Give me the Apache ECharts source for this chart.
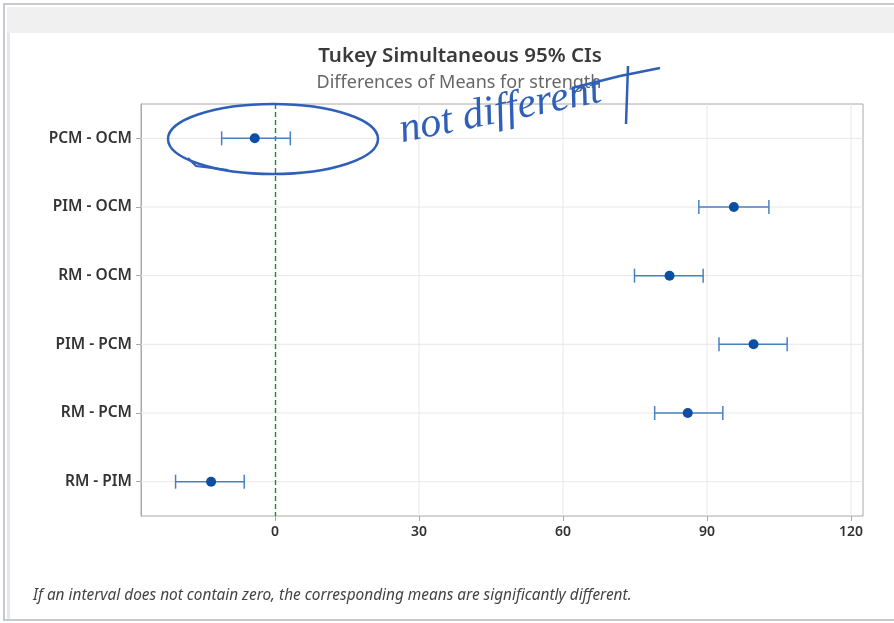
<!DOCTYPE html>
<html>
<head>
<meta charset="utf-8">
<script src="https://cdn.jsdelivr.net/npm/echarts@6/dist/echarts.min.js"></script>
<style>html,body{margin:0;padding:0;background:#fff;}#c{width:894px;height:623px;}</style>
</head>
<body>
<div id="c"></div>
<script>
// ---- data ----
const categories = ['PCM - OCM', 'PIM - OCM', 'RM - OCM', 'PIM - PCM', 'RM - PCM', 'RM - PIM'];
const means = [-4.2, 95.6, 82.2, 99.7, 86.0, -13.3];
const lowers = [-11.1, 88.3, 74.9, 92.5, 79.1, -20.7];
const uppers = [3.2, 102.9, 89.2, 106.7, 93.3, -6.4];
const xTicks = [0, 30, 60, 90, 120];
const refValue = [0];

const chart = echarts.init(document.getElementById('c'), null, {renderer: 'canvas'});
const font = '"Noto Sans", "Open Sans", sans-serif';

const ciData = categories.map((c, i) => [i, lowers[i], uppers[i]]);
const meanData = categories.map((c, i) => [means[i], i]);
const gridStyle = {stroke: '#e8e8e8', lineWidth: 1};

chart.setOption({
  animation: false,
  backgroundColor: '#ffffff',
  title: [
    {text: 'Tukey Simultaneous 95% CIs', left: 455, top: 41, textAlign: 'center',
     textStyle: {fontFamily: font, fontSize: 20.5, fontWeight: 600, color: '#3a3a3a'}},
    {text: 'Differences of Means for strength', left: 454, top: 69, textAlign: 'center',
     textStyle: {fontFamily: font, fontSize: 18, fontWeight: 'normal', color: '#666666'}},
    {text: 'If an interval does not contain zero, the corresponding means are significantly different.',
     left: 28, top: 583,
     textStyle: {fontFamily: font, fontSize: 15.4, fontStyle: 'italic', fontWeight: 'normal', color: '#444444'}}
  ],
  grid: {left: 141, right: 31, top: 104, bottom: 107, show: true, borderColor: '#a8a8a8', borderWidth: 1, containLabel: false},
  xAxis: {
    type: 'value', min: -27.9, max: 122.5,
    axisLine: {show: false},
    axisTick: {show: true, length: 5, lineStyle: {color: '#a8a8a8'}, customValues: xTicks},
    axisLabel: {customValues: xTicks, fontFamily: font, fontSize: 14, fontWeight: 600, color: '#333', margin: 9},
    splitLine: {show: false}
  },
  yAxis: {
    type: 'category', data: categories, inverse: true,
    axisLine: {show: true, onZero: false, lineStyle: {color: '#a8a8a8'}},
    axisTick: {show: true, alignWithLabel: true, length: 5, lineStyle: {color: '#a8a8a8'}},
    axisLabel: {fontFamily: font, fontSize: 15.5, fontWeight: 600, color: '#333', margin: 9},
    splitLine: {show: false}
  },
  series: [
    {
      type: 'custom', silent: true, z: 1,
      data: categories.map((c, i) => [i]),
      encode: {y: 0},
      renderItem: function (params, api) {
        const cs = params.coordSys;
        const y = api.coord([0, api.value(0)])[1];
        return {type: 'line', shape: {x1: cs.x, y1: y, x2: cs.x + cs.width, y2: y}, style: gridStyle};
      }
    },
    {
      type: 'custom', silent: true, z: 1,
      data: xTicks.filter(v => v !== 0).map(v => [v]),
      encode: {x: 0},
      renderItem: function (params, api) {
        const cs = params.coordSys;
        const x = api.coord([api.value(0), 0])[0];
        return {type: 'line', shape: {x1: x, y1: cs.y, x2: x, y2: cs.y + cs.height}, style: gridStyle};
      }
    },
    {
      // green dashed reference line at zero
      type: 'custom', silent: true, z: 2,
      data: refValue.map(v => [v]),
      encode: {x: 0},
      renderItem: function (params, api) {
        const cs = params.coordSys;
        const x = Math.round(api.coord([api.value(0), 0])[0]) + 0.5;
        return {type: 'line', shape: {x1: x, y1: cs.y, x2: x, y2: cs.y + cs.height},
                style: {stroke: '#1e8a32', lineWidth: 1.4, lineDash: [5, 3]}};
      }
    },
    {
      type: 'custom',
      data: ciData,
      encode: {x: [1, 2], y: 0},
      renderItem: function (params, api) {
        const y = api.value(0);
        const p1 = api.coord([api.value(1), y]);
        const p2 = api.coord([api.value(2), y]);
        const h = 7;
        const st = {stroke: '#4a80c2', lineWidth: 1.5};
        return {type: 'group', children: [
          {type: 'line', shape: {x1: p1[0], y1: p1[1], x2: p2[0], y2: p2[1]}, style: st},
          {type: 'line', shape: {x1: p1[0], y1: p1[1] - h, x2: p1[0], y2: p1[1] + h}, style: st},
          {type: 'line', shape: {x1: p2[0], y1: p2[1] - h, x2: p2[0], y2: p2[1] + h}, style: st}
        ]};
      },
      z: 3
    },
    {
      type: 'scatter', data: meanData, symbol: 'circle', symbolSize: 10,
      itemStyle: {color: '#0a4fa3', opacity: 1}, z: 4
    }
  ],
  graphic: [
    {type: 'rect', shape: {x: 4, y: 4, width: 920, height: 616}, style: {fill: 'none', stroke: '#c6cad0', lineWidth: 2}, z: 100},
    {type: 'rect', shape: {x: 7, y: 7, width: 900, height: 26}, style: {fill: '#f0f0f0'}, z: 99},
    {type: 'rect', shape: {x: 7, y: 33, width: 3, height: 586}, style: {fill: '#e4e6e8'}, z: 99},
    {type: 'ellipse', shape: {cx: 273, cy: 139, rx: 105, ry: 35}, style: {fill: 'none', stroke: '#2f5fb8', lineWidth: 2.5}, z: 101},
    {type: 'polyline', shape: {points: [[188, 158], [196, 166], [228, 170]]}, style: {fill: 'none', stroke: '#2f5fb8', lineWidth: 2}, z: 101},
    {type: 'text', x: 404, y: 152, rotation: 0.2,
     style: {text: 'not different', fontFamily: '"Liberation Serif", serif', fontStyle: 'italic', fontSize: 42, fill: '#2f5fb8', textVerticalAlign: 'bottom'}, z: 101},
    {type: 'polyline', shape: {points: [[572, 88], [620, 76], [660, 68]]}, style: {fill: 'none', stroke: '#2f5fb8', lineWidth: 2.5}, z: 101},
    {type: 'polyline', shape: {points: [[628, 66], [627, 95], [626, 124]]}, style: {fill: 'none', stroke: '#2f5fb8', lineWidth: 2.5}, z: 101}
  ]
});
</script>
</body>
</html>
